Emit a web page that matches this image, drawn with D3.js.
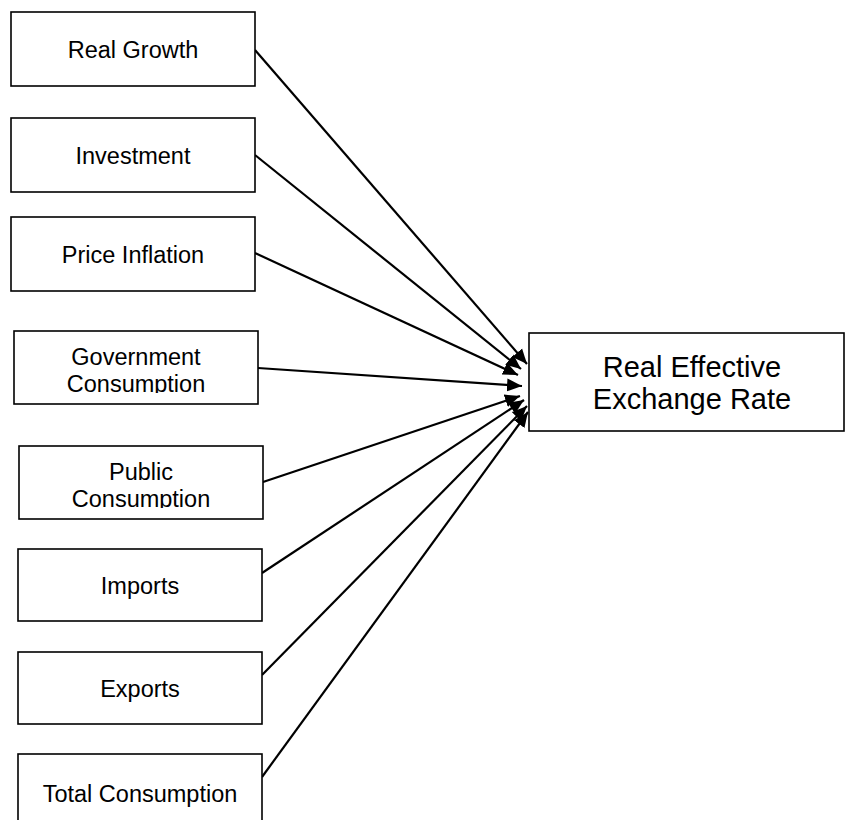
<!DOCTYPE html>
<html>
<head>
<meta charset="utf-8">
<script src="https://cdn.jsdelivr.net/npm/d3@7"></script>
<style>
  body { margin: 0; background: #fff; }
  text { font-family: "Liberation Sans", Arial, sans-serif; fill: #000; }
</style>
</head>
<body>
<div class="container"></div>
<script>
// drivers (left boxes), each label split into lines
var drivers = [
    ["Real Growth"],
    ["Investment"],
    ["Price Inflation"],
    ["Government", "Consumption"],
    ["Public", "Consumption"],
    ["Imports"],
    ["Exports"],
    ["Total Consumption"]
];
var target = ["Real Effective", "Exchange Rate"];

// layout of the boxes (left, top, width, height) and arrow tips
var boxLeft = [11, 11, 11, 14, 19, 18, 18, 18],
    boxTop = [12, 118, 217, 331, 446, 549, 652, 754],
    boxHeight = [74, 74, 74, 73, 73, 72, 72, 80],
    boxWidth = 244;
var startY = [50, 155, 253, 368, 482, 573, 675, 777];
var tips = [[527, 364], [521, 369], [518, 375], [522, 386], [520, 396], [524, 400], [527, 406], [528, 412]];
var targetBox = {x: 529, y: 333, w: 315, h: 98, cx: 692};

var width = 845,
    height = 820;

var svg = d3.select(".container")
    .append("svg")
    .attr("width", width)
    .attr("height", height);

var defs = svg.append("defs");
defs.append("marker")
    .attr("id", "head")
    .attr("markerUnits", "userSpaceOnUse")
    .attr("viewBox", "0 -7 15 14")
    .attr("refX", 15)
    .attr("refY", 0)
    .attr("markerWidth", 15)
    .attr("markerHeight", 14)
    .attr("orient", "auto")
    .append("path")
    .attr("d", "M0,-6.5L15,0L0,6.5Z")
    .attr("fill", "#000");

// arrows
svg.append("g")
    .selectAll("line")
    .data(drivers)
    .enter()
    .append("line")
    .attr("x1", function (d, i) { return boxLeft[i] + boxWidth; })
    .attr("y1", function (d, i) { return startY[i]; })
    .attr("x2", function (d, i) { return tips[i][0]; })
    .attr("y2", function (d, i) { return tips[i][1]; })
    .attr("stroke", "#000")
    .attr("stroke-width", 2.2)
    .attr("marker-end", "url(#head)");

// left boxes
var nodes = svg.append("g")
    .selectAll("g")
    .data(drivers)
    .enter()
    .append("g");

nodes.append("clipPath")
    .attr("id", function (d, i) { return "clip" + i; })
    .append("rect")
    .attr("x", function (d, i) { return boxLeft[i]; })
    .attr("y", function (d, i) { return boxTop[i]; })
    .attr("width", boxWidth)
    .attr("height", function (d, i) { return boxHeight[i] - 11; });

nodes.append("rect")
    .attr("x", function (d, i) { return boxLeft[i]; })
    .attr("y", function (d, i) { return boxTop[i]; })
    .attr("width", boxWidth)
    .attr("height", function (d, i) { return boxHeight[i]; })
    .attr("fill", "#fff")
    .attr("stroke", "#000")
    .attr("stroke-width", 1.6);

nodes.append("text")
    .attr("clip-path", function (d, i) { return "url(#clip" + i + ")"; })
    .attr("text-anchor", "middle")
    .style("font-size", "23.5px")
    .each(function (d, i) {
        var cx = boxLeft[i] + boxWidth / 2;
        var y0 = d.length > 1 ? boxTop[i] + 33.5 : (i === 7 ? boxTop[i] + 47.5 : boxTop[i] + boxHeight[i] / 2 + 8.5);
        d3.select(this).selectAll("tspan")
            .data(d)
            .enter()
            .append("tspan")
            .attr("x", cx)
            .attr("y", function (t, j) { return y0 + j * 27; })
            .text(function (t) { return t; });
    });

// target box
svg.append("rect")
    .attr("x", targetBox.x)
    .attr("y", targetBox.y)
    .attr("width", targetBox.w)
    .attr("height", targetBox.h)
    .attr("fill", "#fff")
    .attr("stroke", "#000")
    .attr("stroke-width", 1.6);

svg.append("text")
    .attr("text-anchor", "middle")
    .style("font-size", "29px")
    .selectAll("tspan")
    .data(target)
    .enter()
    .append("tspan")
    .attr("x", targetBox.cx)
    .attr("y", function (t, j) { return 377 + j * 32; })
    .text(function (t) { return t; });
</script>
</body>
</html>
